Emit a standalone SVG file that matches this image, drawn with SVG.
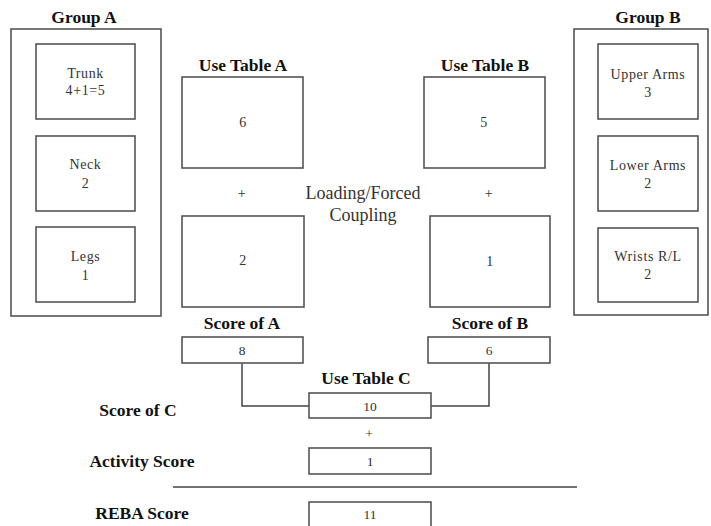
<svg xmlns="http://www.w3.org/2000/svg" width="711" height="526" viewBox="0 0 711 526">
<style>
rect{fill:#fff;stroke:#555;stroke-width:1.6}
.t{font-family:"Liberation Serif","Times New Roman",serif;font-weight:bold;font-size:17.5px;fill:#111;text-anchor:middle}
.n{font-family:"Liberation Serif","Times New Roman",serif;font-size:14px;fill:#333;text-anchor:middle;letter-spacing:0.6px}
.s{font-family:"Liberation Serif","Times New Roman",serif;font-size:13.5px;fill:#333;text-anchor:middle}
.l{font-family:"Liberation Serif","Times New Roman",serif;font-size:18px;fill:#333;text-anchor:middle}
.c{fill:none;stroke:#444;stroke-width:1.5}
</style>
<rect x="0" y="0" width="711" height="526" style="fill:#fff;stroke:none"/>
<g id="groupA">
<text class="t" x="84" y="23">Group A</text>
<rect x="11" y="29" width="150" height="287"/>
</g>
<g id="trunk"><rect x="36" y="44" width="99" height="75"/><text class="n" x="85.5" y="78">Trunk</text><text class="n" x="85.5" y="95">4+1=5</text></g>
<g id="neck"><rect x="36" y="136" width="99" height="75"/><text class="n" x="85.5" y="169">Neck</text><text class="n" x="85.5" y="188">2</text></g>
<g id="legs"><rect x="36" y="227" width="99" height="75"/><text class="n" x="85.5" y="261">Legs</text><text class="n" x="85.5" y="280">1</text></g>
<g id="groupB">
<text class="t" x="648" y="23">Group B</text>
<rect x="574" y="29" width="134" height="286"/>
</g>
<g id="upperArms"><rect x="598" y="44" width="100" height="75"/><text class="n" x="648" y="79">Upper Arms</text><text class="n" x="648" y="97">3</text></g>
<g id="lowerArms"><rect x="598" y="136" width="100" height="75"/><text class="n" x="648" y="170">Lower Arms</text><text class="n" x="648" y="188">2</text></g>
<g id="wrists"><rect x="598" y="228" width="100" height="74"/><text class="n" x="648" y="261">Wrists R/L</text><text class="n" x="648" y="279">2</text></g>
<g id="tableA"><text class="t" x="243" y="71">Use Table A</text><rect x="182" y="77" width="121" height="91"/><text class="n" x="243" y="127">6</text></g>
<g id="tableB"><text class="t" x="485" y="71">Use Table B</text><rect x="424" y="77" width="121" height="91"/><text class="n" x="484" y="127">5</text></g>
<g id="plusA"><text class="n" x="242" y="198">+</text></g>
<g id="plusB"><text class="n" x="489" y="198">+</text></g>
<g id="loading"><text class="l" x="363" y="199">Loading/Forced</text><text class="l" x="363" y="221">Coupling</text></g>
<g id="loadA"><rect x="182" y="216" width="122" height="91"/><text class="n" x="243" y="265">2</text></g>
<g id="loadB"><rect x="430" y="216" width="120" height="91"/><text class="n" x="490" y="266">1</text></g>
<g id="connectors">
<polyline class="c" points="242,363 242,406 309,406"/>
<polyline class="c" points="431,406 489,406 489,363"/>
<line class="c" x1="173" y1="487" x2="577" y2="487"/>
</g>
<g id="scoreA"><text class="t" x="242" y="329">Score of A</text><rect x="182" y="337" width="121" height="26"/><text class="s" x="242" y="355">8</text></g>
<g id="scoreB"><text class="t" x="490" y="329">Score of B</text><rect x="428" y="337" width="122" height="26"/><text class="s" x="489" y="355">6</text></g>
<g id="tableC"><text class="t" x="366" y="384">Use Table C</text><rect x="309" y="393" width="122" height="25"/><text class="s" x="370" y="411">10</text></g>
<g id="scoreCLabel"><text class="t" x="138" y="416">Score of C</text></g>
<g id="plusC"><text class="s" x="369" y="438">+</text></g>
<g id="activity"><text class="t" x="142" y="467">Activity Score</text><rect x="309" y="448" width="122" height="26"/><text class="s" x="370" y="466">1</text></g>
<g id="reba"><text class="t" x="142" y="519">REBA Score</text><rect x="309" y="502" width="122" height="30"/><text class="s" x="370" y="519">11</text></g>
</svg>
